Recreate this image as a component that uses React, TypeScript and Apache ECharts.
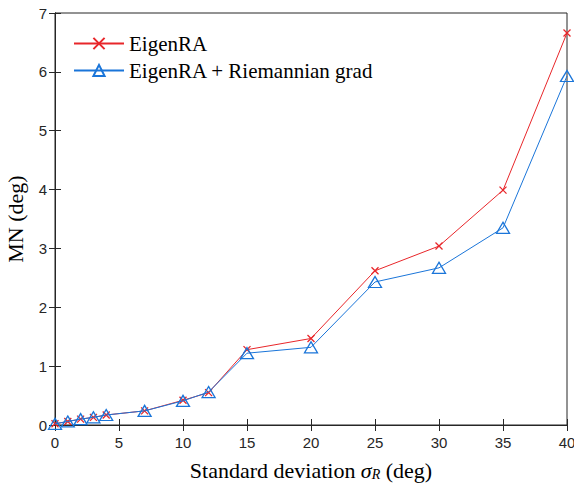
import React, { useEffect, useRef } from "react";
import * as echarts from "echarts";

const sigma = [0, 1, 2, 3, 4, 7, 10, 12, 15, 20, 25, 30, 35, 40];
const eigenRA = [0.02, 0.06, 0.1, 0.13, 0.17, 0.24, 0.42, 0.55, 1.28, 1.47, 2.62, 3.04, 3.99, 6.66];
const eigenRAGrad = [0.02, 0.06, 0.1, 0.13, 0.17, 0.24, 0.41, 0.56, 1.22, 1.32, 2.43, 2.67, 3.35, 5.93];
const seriesNames = ["EigenRA", "EigenRA + Riemannian grad"];

export default function App() {
  const ref = useRef<HTMLDivElement>(null);
  useEffect(() => {
    document.body.style.margin = "0";
    const chart = echarts.init(ref.current!, null, { renderer: "svg" });
    const red = "#e8262a";
    const blue = "#1a75d9";
    const axisColor = "#262626";
    const tickLabel = { color: "#262626", fontFamily: "Liberation Sans", fontSize: 15 };
    const serif = "Liberation Serif, serif";
    chart.setOption({
      animation: false,
      backgroundColor: "#ffffff",
      grid: {
        left: 55, right: 7, top: 13, bottom: 59,
        outerBoundsMode: "none", containLabel: false,
        show: true, borderColor: axisColor, borderWidth: 1, backgroundColor: "transparent",
      },
      legend: {
        orient: "vertical",
        left: 68,
        top: 28,
        itemWidth: 50,
        itemHeight: 14,
        itemGap: 6,
        textStyle: { fontFamily: serif, fontSize: 21, color: "#000" },
        data: seriesNames,
      },
      xAxis: [
        {
          type: "value",
          min: 0,
          max: 40,
          interval: 5,
          axisLine: { lineStyle: { color: axisColor } },
          axisTick: { inside: true, length: 6, lineStyle: { color: axisColor } },
          axisLabel: { ...tickLabel, margin: 10 },
          splitLine: { show: false },
          name: "{a|Standard deviation }{i|σ}{s|R}{a| (deg)}",
          nameLocation: "middle",
          nameGap: 34,
          nameTextStyle: {
            fontFamily: serif,
            rich: {
              a: { fontFamily: serif, fontSize: 22, color: "#000" },
              i: { fontFamily: serif, fontSize: 22, fontStyle: "italic", color: "#000" },
              s: { fontFamily: serif, fontSize: 14, fontStyle: "italic", color: "#000", verticalAlign: "bottom", padding: [6, 0, 0, 0] },
            },
          },
        },
        {
          type: "value",
          position: "top",
          min: 0,
          max: 40,
          interval: 5,
          axisLine: { show: true, lineStyle: { color: axisColor } },
          axisTick: { inside: true, length: 6, lineStyle: { color: axisColor } },
          axisLabel: { show: false },
          splitLine: { show: false },
        },
      ],
      yAxis: [
        {
          type: "value",
          min: 0,
          max: 7,
          interval: 1,
          axisLine: { show: true, lineStyle: { color: axisColor } },
          axisTick: { show: true, inside: true, length: 6, lineStyle: { color: axisColor } },
          axisLabel: { ...tickLabel, margin: 8 },
          splitLine: { show: false },
          name: "MN (deg)",
          nameLocation: "middle",
          nameGap: 29,
          nameTextStyle: { fontFamily: serif, fontSize: 22, color: "#000" },
        },
        {
          type: "value",
          position: "right",
          min: 0,
          max: 7,
          interval: 1,
          axisLine: { show: true, lineStyle: { color: axisColor } },
          axisTick: { show: true, inside: true, length: 6, lineStyle: { color: axisColor } },
          axisLabel: { show: false },
          splitLine: { show: false },
        },
      ],
      series: [
        {
          name: seriesNames[0],
          type: "line",
          data: sigma.map((x, i) => [x, eigenRA[i]]),
          symbol: "path://M0,0L10,10M10,0L0,10",
          symbolSize: 7,
          lineStyle: { color: red, width: 1 },
          itemStyle: { color: "none", borderColor: red, borderWidth: 1.3 },
          z: 3,
        },
        {
          name: seriesNames[1],
          type: "line",
          data: sigma.map((x, i) => [x, eigenRAGrad[i]]),
          symbol: "triangle",
          symbolSize: [13, 11],
          lineStyle: { color: blue, width: 1 },
          itemStyle: { color: "none", borderColor: blue, borderWidth: 1.3 },
          z: 4,
        },
      ],
    });
    return () => chart.dispose();
  }, []);
  return <div ref={ref} style={{ width: 574, height: 484 }} />;
}
